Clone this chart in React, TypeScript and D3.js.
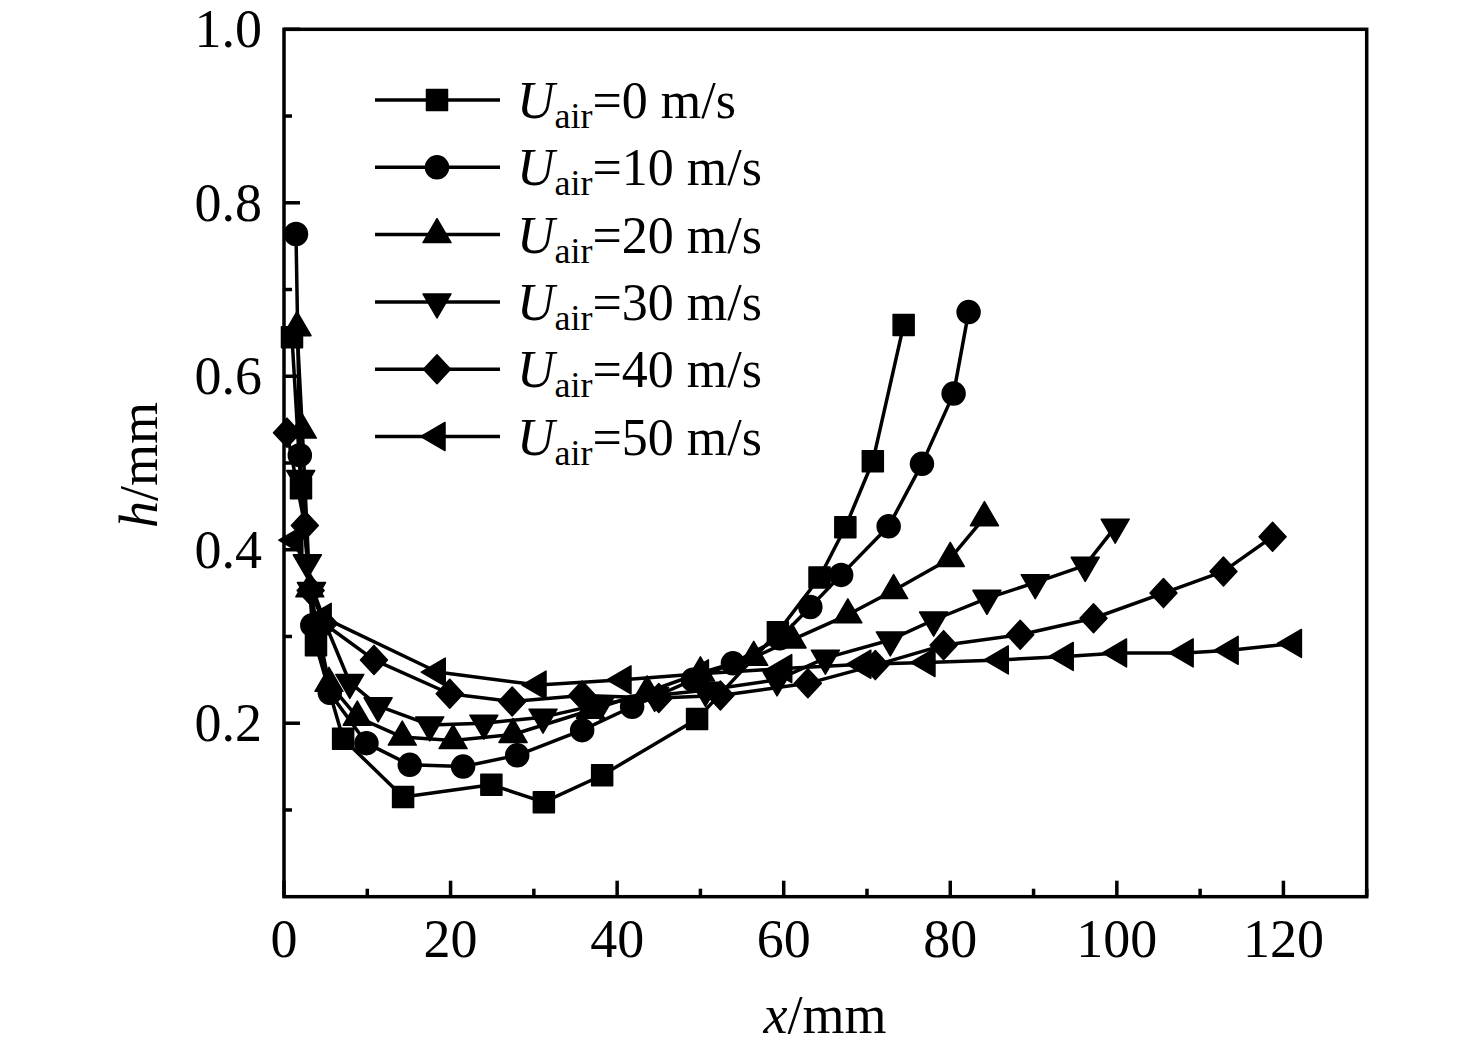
import React from "react";
import * as d3 from "d3";

type Pt = [number, number];

const seriesNames = ["0", "10", "20", "30", "40", "50"];
const markerTypes = ["square", "circle", "triUp", "triDown", "diamond", "triLeft"];

const s0: Pt[] = [[0.96,0.645],[2.04,0.471],[3.84,0.29],[7.1,0.182],[14.3,0.115],[24.9,0.129],[31.2,0.109],[38.2,0.14],[49.6,0.205],[59.3,0.305],[64.3,0.368],[67.4,0.426],[70.7,0.502],[74.4,0.659]];
const s10: Pt[] = [[1.44,0.764],[1.9,0.509],[3.4,0.313],[5.5,0.235],[9.9,0.177],[15.1,0.152],[21.5,0.15],[28.0,0.163],[35.8,0.192],[41.8,0.219],[49.1,0.25],[53.9,0.269],[59.5,0.298],[63.2,0.334],[66.9,0.371],[72.6,0.427],[76.6,0.499],[80.4,0.58],[82.2,0.674]];
const s20: Pt[] = [[1.56,0.656],[2.2,0.538],[3.1,0.355],[5.4,0.246],[8.8,0.207],[14.2,0.184],[20.3,0.18],[27.5,0.187],[36.8,0.215],[43.6,0.236],[50.0,0.258],[56.4,0.276],[61.0,0.296],[67.7,0.325],[73.2,0.353],[80.0,0.39],[84.1,0.437]];
const s30: Pt[] = [[2.0,0.482],[2.8,0.385],[3.3,0.353],[7.9,0.247],[11.3,0.22],[17.5,0.198],[24.0,0.2],[31.1,0.207],[38.0,0.222],[44.5,0.232],[50.6,0.238],[59.2,0.25],[65.0,0.275],[72.8,0.296],[78.0,0.319],[84.4,0.344],[90.2,0.362],[96.2,0.382],[99.8,0.426]];
const s40: Pt[] = [[0.36,0.535],[2.5,0.428],[3.2,0.353],[4.8,0.315],[10.8,0.273],[19.9,0.234],[27.4,0.225],[35.8,0.232],[45.0,0.229],[52.4,0.232],[62.9,0.246],[71.0,0.267],[79.2,0.29],[88.4,0.302],[97.2,0.321],[105.6,0.35],[112.8,0.375],[118.7,0.415]];
const s50: Pt[] = [[1.3,0.411],[4.7,0.322],[18.4,0.259],[30.5,0.244],[40.7,0.25],[50.0,0.257],[60.0,0.263],[69.5,0.268],[77.2,0.27],[86.0,0.273],[93.8,0.277],[100.2,0.281],[108.2,0.281],[113.6,0.284],[121.2,0.292]];
const allSeries = [s0, s10, s20, s30, s40, s50];

const xMajorTicks = [0, 20, 40, 60, 80, 100, 120];
const xMinorTicks = [10, 30, 50, 70, 90, 110, 130];
const yMajorTicks = [0.2, 0.4, 0.6, 0.8, 1.0];
const yMinorTicks = [0.1, 0.3, 0.5, 0.7, 0.9];
const yTickLabels = ["0.2", "0.4", "0.6", "0.8", "1.0"];
const xTickLabels = ["0", "20", "40", "60", "80", "100", "120"];

const W = 1476, H = 1052;
const L = 284, R = 1366.7, T = 29.3, B = 896.7;
const FONT = "'Liberation Serif', 'Times New Roman', serif";

function markerPath(type: string, cx: number, cy: number): string {
  switch (type) {
    case "square": {
      const h = 10.5;
      return `M${cx - h},${cy - h}H${cx + h}V${cy + h}H${cx - h}Z`;
    }
    case "circle": {
      const r = 11.5;
      return `M${cx - r},${cy}a${r},${r} 0 1,0 ${2 * r},0a${r},${r} 0 1,0 ${-2 * r},0Z`;
    }
    case "triUp": {
      const w = 14, hh = 24;
      return `M${cx},${cy - (2 * hh) / 3}L${cx + w},${cy + hh / 3}L${cx - w},${cy + hh / 3}Z`;
    }
    case "triDown": {
      const w = 14, hh = 24;
      return `M${cx},${cy + (2 * hh) / 3}L${cx + w},${cy - hh / 3}L${cx - w},${cy - hh / 3}Z`;
    }
    case "triLeft": {
      const w = 14, hh = 24;
      return `M${cx - (2 * hh) / 3},${cy}L${cx + hh / 3},${cy - w}L${cx + hh / 3},${cy + w}Z`;
    }
    case "diamond": {
      const a = 13.5, b = 14.5;
      return `M${cx},${cy - b}L${cx + a},${cy}L${cx},${cy + b}L${cx - a},${cy}Z`;
    }
  }
  return "";
}

export default function App() {
  const x = d3.scaleLinear().domain([0, 130]).range([L, R]);
  const y = d3.scaleLinear().domain([0, 1.0]).range([B, T]);
  const line = d3.line<Pt>().x((d) => x(d[0])).y((d) => y(d[1]));

  const legendX0 = 375, legendX1 = 500, legendMX = 437, legendTX = 517;
  const legendY0 = 100, legendDY = 67.3;

  return (
    <svg
      width={W}
      height={H}
      style={{ position: "absolute", left: 0, top: 0, background: "#fff" }}
      fontFamily={FONT}
    >
      <rect x={0} y={0} width={W} height={H} fill="#fff" />
      {allSeries.map((s, i) => (
        <g key={i}>
          <path d={line(s) || ""} fill="none" stroke="#000" strokeWidth={3.5} strokeLinejoin="round" />
          {s.map((p, j) => (
            <path
              key={j}
              d={markerPath(markerTypes[i], x(p[0]), y(p[1]))}
              fill="#000"
              stroke="#000"
              strokeWidth={1.5}
              strokeLinejoin="round"
            />
          ))}
        </g>
      ))}
      <rect x={L} y={T} width={R - L} height={B - T} fill="none" stroke="#000" strokeWidth={3.5} />
      {xMajorTicks.map((t) => (
        <line key={"xM" + t} x1={x(t)} x2={x(t)} y1={B} y2={B - 16} stroke="#000" strokeWidth={3.5} />
      ))}
      {xMinorTicks.map((t) => (
        <line key={"xm" + t} x1={x(t)} x2={x(t)} y1={B} y2={B - 8} stroke="#000" strokeWidth={3.5} />
      ))}
      {yMajorTicks.map((t) => (
        <line key={"yM" + t} x1={L} x2={L + 16} y1={y(t)} y2={y(t)} stroke="#000" strokeWidth={3.5} />
      ))}
      {yMinorTicks.map((t) => (
        <line key={"ym" + t} x1={L} x2={L + 8} y1={y(t)} y2={y(t)} stroke="#000" strokeWidth={3.5} />
      ))}
      {xMajorTicks.map((t, i) => (
        <text key={"xl" + t} x={x(t)} y={B + 60} fontSize={54} textAnchor="middle" fill="#000">
          {xTickLabels[i]}
        </text>
      ))}
      {yMajorTicks.map((t, i) => (
        <text key={"yl" + t} x={262} y={y(t) + 18} fontSize={54} textAnchor="end" fill="#000">
          {yTickLabels[i]}
        </text>
      ))}
      <text x={825} y={1033} fontSize={54} textAnchor="middle" fill="#000">
        <tspan fontStyle="italic">x</tspan>/mm
      </text>
      <text transform="translate(157,465) rotate(-90)" fontSize={54} textAnchor="middle" fill="#000">
        <tspan fontStyle="italic">h</tspan>/mm
      </text>
      {seriesNames.map((n, i) => {
        const ly = legendY0 + i * legendDY;
        return (
          <g key={"lg" + i}>
            <line x1={legendX0} x2={legendX1} y1={ly} y2={ly} stroke="#000" strokeWidth={3.5} />
            <path d={markerPath(markerTypes[i], legendMX, ly)} fill="#000" stroke="#000" strokeWidth={1.5} strokeLinejoin="round" />
            <text x={legendTX} y={ly + 18} fontSize={52} fill="#000">
              <tspan fontStyle="italic">U</tspan>
              <tspan fontSize={36} dy={10}>air</tspan>
              <tspan dy={-10}>{"=" + n + " m/s"}</tspan>
            </text>
          </g>
        );
      })}
    </svg>
  );
}
